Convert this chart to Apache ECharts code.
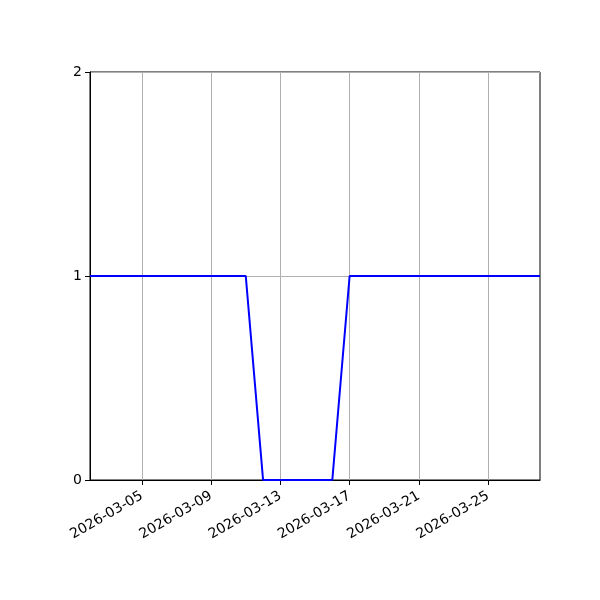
<!DOCTYPE html>
<html>
<head>
<meta charset="utf-8">
<script src="https://cdn.jsdelivr.net/npm/echarts@6/dist/echarts.min.js"></script>
<style>
  html, body { margin: 0; padding: 0; background: #fff; }
  #chart { width: 600px; height: 600px; }
</style>
</head>
<body>
<div id="chart"></div>
<script>
// daily values, 2026-03-02 .. 2026-03-28
const dates = [
    '2026-03-02', '2026-03-03', '2026-03-04', '2026-03-05', '2026-03-06', '2026-03-07',
    '2026-03-08', '2026-03-09', '2026-03-10', '2026-03-11', '2026-03-12', '2026-03-13',
    '2026-03-14', '2026-03-15', '2026-03-16', '2026-03-17', '2026-03-18', '2026-03-19',
    '2026-03-20', '2026-03-21', '2026-03-22', '2026-03-23', '2026-03-24', '2026-03-25',
    '2026-03-26', '2026-03-27', '2026-03-28'
];
const values = [1, 1, 1, 1, 1, 1, 1, 1, 1, 1, 0, 0, 0, 0, 0, 1, 1, 1, 1, 1, 1, 1, 1, 1, 1, 1, 1];
const xTickLabels = ['2026-03-05', '2026-03-09', '2026-03-13', '2026-03-17', '2026-03-21', '2026-03-25'];
const yTicks = [0, 1, 2];

// x is measured in days since the first date
const DAY = 86400000;
const ts = (s) => Date.UTC(+s.slice(0, 4), +s.slice(5, 7) - 1, +s.slice(8, 10));
const t0 = ts(dates[0]);
const dayOf = (s) => (ts(s) - t0) / DAY;
const pad = (n) => (n < 10 ? '0' : '') + n;
const fmt = (day) => {
    const d = new Date(t0 + Math.round(day) * DAY);
    return d.getUTCFullYear() + '-' + pad(d.getUTCMonth() + 1) + '-' + pad(d.getUTCDate());
};
const xTicks = xTickLabels.map(dayOf);

const chart = echarts.init(document.getElementById('chart'));
chart.setOption({
    animation: false,
    grid: { left: 90, right: 60, top: 72, bottom: 120, show: true, borderColor: '#000', borderWidth: 1 },
    xAxis: {
        type: 'value',
        min: 0,
        max: dayOf(dates[dates.length - 1]),
        axisLine: { lineStyle: { color: '#000', width: 1 } },
        axisTick: { show: true, length: 5, customValues: xTicks, lineStyle: { color: '#000' } },
        axisLabel: {
            customValues: xTicks,
            rotate: 30,
            color: '#000',
            fontFamily: 'DejaVu Sans',
            fontSize: 14,
            margin: 15,
            formatter: (v) => fmt(v)
        },
        splitLine: { show: true, lineStyle: { color: '#b0b0b0', width: 1 } }
    },
    yAxis: {
        type: 'value',
        min: yTicks[0],
        max: yTicks[yTicks.length - 1],
        interval: 1,
        axisLine: { show: true, lineStyle: { color: '#000', width: 1 } },
        axisTick: { show: true, length: 5, lineStyle: { color: '#000' } },
        axisLabel: { color: '#000', fontFamily: 'DejaVu Sans', fontSize: 14, margin: 8 },
        splitLine: { show: true, lineStyle: { color: '#b0b0b0', width: 1 } }
    },
    series: [{
        type: 'line',
        data: dates.map((d, i) => [dayOf(d), values[i]]),
        showSymbol: false,
        lineStyle: { color: '#0000ff', width: 2 },
        itemStyle: { color: '#0000ff' }
    }]
});
</script>
</body>
</html>
